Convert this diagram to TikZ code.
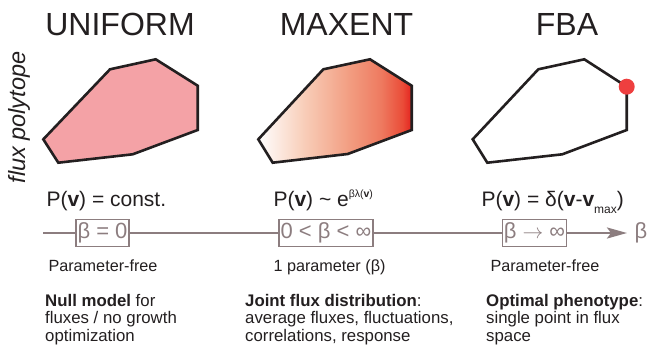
\documentclass[tikz,border=0pt]{standalone}
\usepackage{fontspec}
\setmainfont{Liberation Sans}
\usetikzlibrary{arrows.meta}
\definecolor{axisc}{HTML}{8C7D7F}
\definecolor{unif}{HTML}{F4A2A6}
\definecolor{dotred}{HTML}{EE3F3F}
\definecolor{txt}{HTML}{231F20}
\definecolor{mA}{HTML}{F8CDB8}
\definecolor{mB}{HTML}{F29C80}
\definecolor{mC}{HTML}{EE7A60}
\definecolor{mD}{HTML}{EA4C38}
\definecolor{mE}{HTML}{E4231F}
\pgfdeclarehorizontalshading{maxent}{100bp}{color(0bp)=(white); color(25bp)=(white); color(40bp)=(mA); color(55bp)=(mB); color(65bp)=(mC); color(72bp)=(mD); color(75bp)=(mE); color(100bp)=(mE)}
\newcommand{\supx}[1]{\raisebox{9pt}{\fontsize{10.5}{12}\selectfont #1}}
\newcommand{\subx}[1]{\raisebox{-7pt}{\fontsize{12}{13}\selectfont #1}}
\tikzset{
  title/.style={anchor=base, font=\fontsize{32}{36}\selectfont, text=txt},
  formula/.style={anchor=base west, font=\fontsize{21}{24}\selectfont, text=txt},
  betabox/.style={draw=axisc, line width=1.3pt, text=axisc, font=\fontsize{22}{24}\selectfont, inner xsep=1.5pt, inner ysep=0pt, minimum height=27pt},
  small/.style={anchor=base west, font=\fontsize{16.2}{19}\selectfont, text=txt},
  block/.style={anchor=north west, align=left, font=\fontsize{16.8}{17.6}\selectfont, text=txt, inner sep=0pt},
  poly/.style={draw=txt, line width=2.6pt, line join=miter},
  axisline/.style={draw=axisc, line width=2.4pt}
}
\begin{document}
\begin{tikzpicture}[x=1pt,y=-1pt]
\useasboundingbox (0,0) rectangle (647,346);

% titles
\node[title] (t1) at (120,35) {UNIFORM};
\node[title] (t2) at (346.5,35) {MAXENT};
\node[title] (t3) at (567,35) {FBA};

% side label
\node[rotate=90, font=\fontsize{23.5}{26}\selectfont\itshape, text=txt] (side) at (19,117.5) {flux polytope};

% polytopes
\path[poly, fill=unif] (43.3,139.3) -- (58.3,162.7) -- (132.7,154.3) -- (197.7,130) -- (197.7,85.7) -- (155.7,59.3) -- (110,69.3) -- cycle;
\path[poly, shading=maxent] (258.3,139.3) -- (272.7,162.7) -- (347.7,154) -- (411.7,130) -- (411.7,85.7) -- (370,59.3) -- (323.3,69.3) -- cycle;
\path[poly] (472.7,139.3) -- (487.3,162.7) -- (562.3,154.3) -- (626.7,130) -- (626.7,86.7) -- (584.3,59.3) -- (538.3,69.3) -- cycle;
\fill[dotred] (626.7,86.7) circle (8);

% formulas
\node[formula] (f1) at (43,206) {P(\textbf{v}) = const.};
\node[formula] (f2) at (270,206) {P(\textbf{v}) \textasciitilde{} e\supx{βλ(\textbf{v})}};
\node[formula] (f3) at (478,206) {P(\textbf{v}) = δ(\textbf{v}-\textbf{v}\subx{max})};

% axis
\coordinate (a0) at (43,233);
\coordinate (a1) at (627,233);
\node[betabox] (b1) at (102.5,233) {β = 0};
\node[betabox] (b2) at (326,233) {0 < β < ∞};
\node[betabox] (b3) at (534.5,233) {β $\rightarrow$ ∞};
\draw[axisline] (a0) -- (b1);
\draw[axisline] (b1) -- (b2);
\draw[axisline] (b2) -- (b3);
\draw[axisline, -{Stealth[length=20pt,width=11pt,inset=4pt]}] (b3) -- (a1);
\node[text=axisc, font=\fontsize{22}{24}\selectfont] (bl) at (641,233) {β};

% parameter labels
\node[small] (p1) at (45,271) {Parameter-free};
\node[small] (p2) at (270,271) {1 parameter (β)};
\node[small] (p3) at (487,271) {Parameter-free};

% descriptions
\node[block] (d1) at (45,294) {\textbf{Null model} for\\fluxes / no growth\\optimization};
\node[block] (d2) at (245,294) {\textbf{Joint flux distribution}:\\average fluxes, fluctuations,\\correlations, response};
\node[block] (d3) at (486,294) {\textbf{Optimal phenotype}:\\single point in flux\\space};
\end{tikzpicture}
\end{document}
